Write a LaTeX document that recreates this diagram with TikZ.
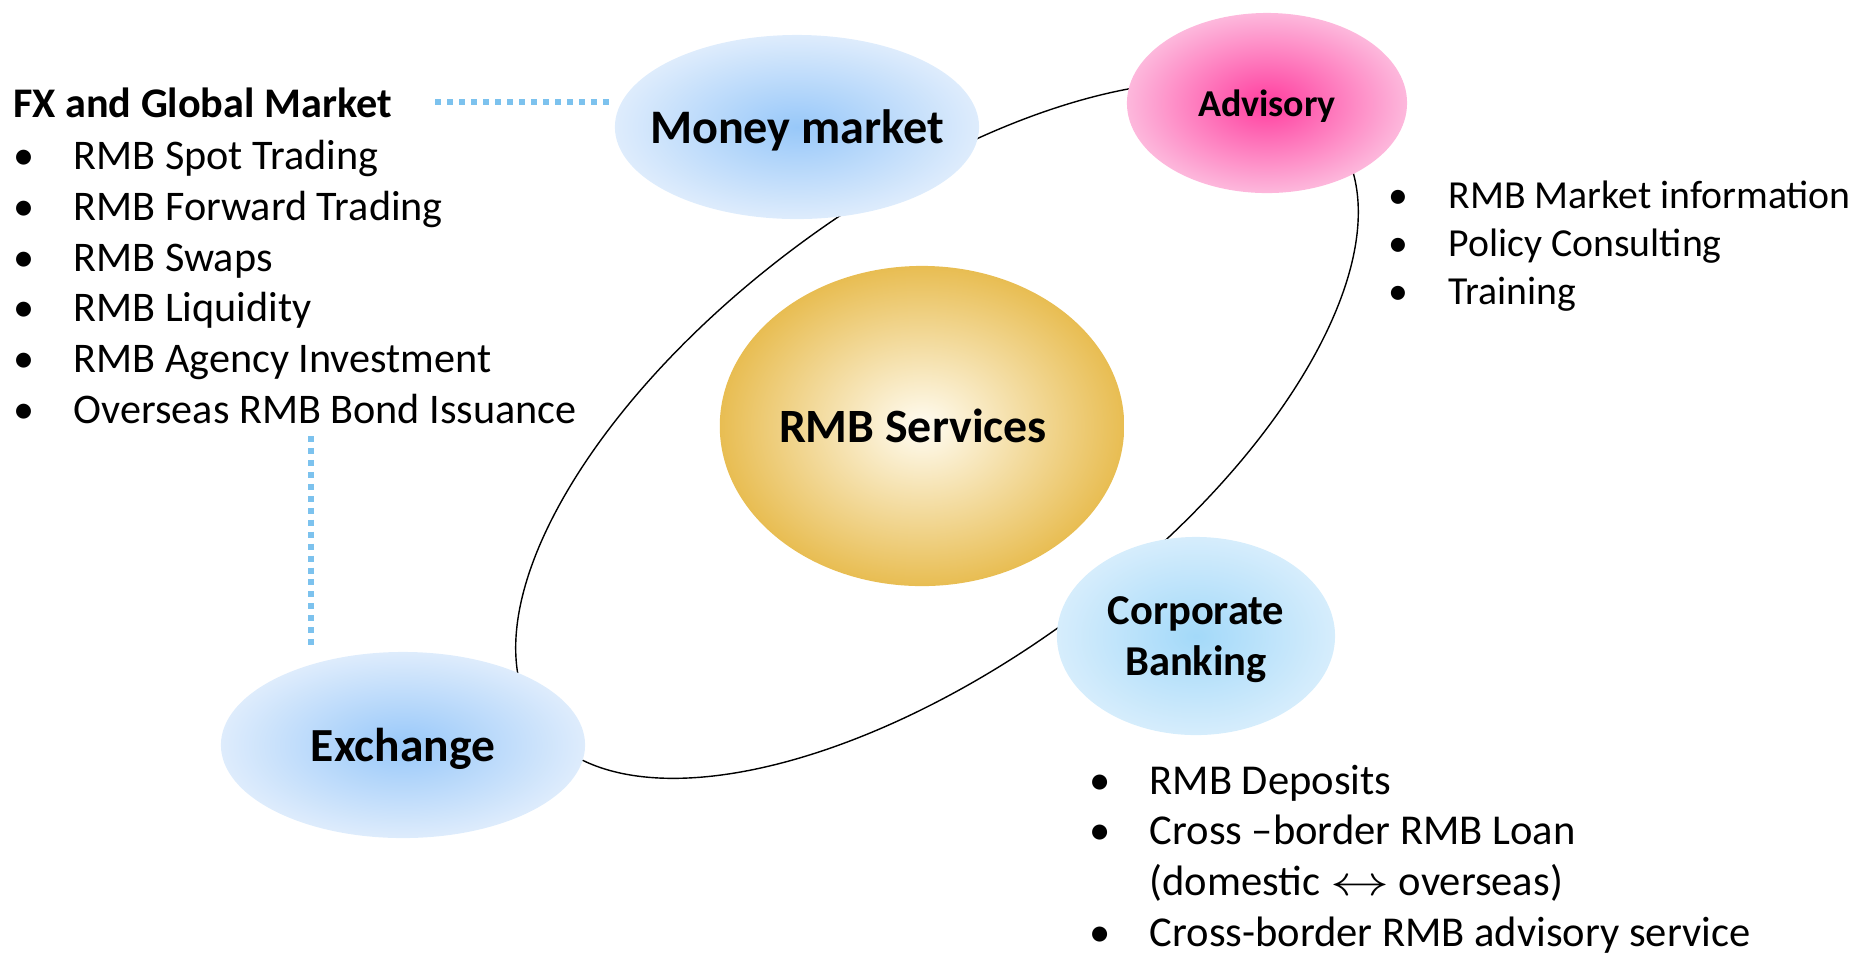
\documentclass[tikz,border=0pt]{standalone}
\usepackage{fontspec}
\usepackage{graphicx}
\setmainfont{Carlito}
\usetikzlibrary{shapes.geometric}

\definecolor{skyin}{HTML}{98C8F9}
\definecolor{skyout}{HTML}{DEECFC}
\definecolor{pinkin}{HTML}{FF3E9F}
\definecolor{pinkout}{HTML}{FDB8DC}
\definecolor{goldin}{HTML}{FFFCF2}
\definecolor{goldout}{HTML}{E8BD52}
\definecolor{cyanin}{HTML}{A3D9F9}
\definecolor{cyanout}{HTML}{D6EDFC}
\definecolor{dotblue}{HTML}{7CC2EE}

\tikzset{
  bubble/.style={ellipse, inner sep=0pt, align=center, text depth=0pt},
  dotline/.style={draw=dotblue, line width=1.7pt, dash pattern=on 1.7pt off 1.7pt},
  bullets/.style={align=left, inner sep=0pt, anchor=north west},
}
\newcommand{\blt}{\makebox[0.6cm][l]{\textbullet}}

\begin{document}
\begin{tikzpicture}[x=0.01cm,y=-0.01cm]
\useasboundingbox (0,0) rectangle (1856,953);

% the ring behind the service bubbles
\draw[rotate around={36.5:(937,430)}] (937,430) ellipse [x radius=4.95cm, y radius=2.31cm];

\node[bubble, minimum width=4cm, minimum height=3.2cm, inner color=goldin, outer color=goldout,
  font=\bfseries\fontsize{13.6pt}{16pt}\selectfont] (rmb) at (922,426) {RMB Services\hspace*{0.18cm}};
\node[bubble, minimum width=3.64cm, minimum height=1.84cm, inner color=skyin, outer color=skyout,
  font=\bfseries\fontsize{13.7pt}{16pt}\selectfont] (money) at (797,127) {\makebox[0pt]{Money market}};
\node[bubble, minimum width=2.8cm, minimum height=1.8cm, inner color=pinkin, outer color=pinkout,
  font=\bfseries\fontsize{10.8pt}{13pt}\selectfont] (advisory) at (1267,103) {Advisory};
\node[bubble, minimum width=2.78cm, minimum height=1.98cm, inner color=cyanin, outer color=cyanout,
  font=\bfseries\fontsize{12.1pt}{14.5pt}\selectfont] (corporate) at (1196,636) {Corporate\\Banking};
\node[bubble, minimum width=3.64cm, minimum height=1.86cm, inner color=skyin, outer color=skyout,
  font=\bfseries\fontsize{13.5pt}{16pt}\selectfont] (exchange) at (403,745) {Exchange};

% service lists
\node[anchor=base west, inner sep=0pt, font=\bfseries\fontsize{12pt}{14pt}\selectfont] (fx) at (13,117) {FX and Global Market};
\node[bullets, font=\fontsize{12pt}{14.5pt}\selectfont] (fxlist) at (13,139) {%
  \blt RMB Spot Trading\\
  \blt RMB Forward Trading\\
  \blt RMB Swaps\\
  \blt RMB Liquidity\\
  \blt RMB Agency Investment\\
  \blt Overseas RMB Bond Issuance};
\node[bullets, font=\fontsize{11.3pt}{13.7pt}\selectfont] (advlist) at (1388,180) {%
  \blt RMB Market information\\
  \blt Policy Consulting\\
  \blt Training};
\node[bullets, font=\fontsize{12.1pt}{14.5pt}\selectfont] (corplist) at (1089,764) {%
  \blt RMB Deposits\\
  \blt Cross --border RMB Loan\\
  \hspace*{0.6cm}(domestic \scalebox{1.4}[1]{$\leftrightarrow$} overseas)\\
  \blt Cross-border RMB advisory service};

% dotted links to the market bubbles
\coordinate (vx) at (311,0);
\coordinate (vtop) at (0,436);
\draw[dotline, shorten <=0.43cm, shorten >=0.03cm] (fx.east) -- (fx.east -| money.west);
\draw[dotline, shorten >=0.05cm] (vx |- vtop) -- (vx |- exchange.north);
\end{tikzpicture}
\end{document}
